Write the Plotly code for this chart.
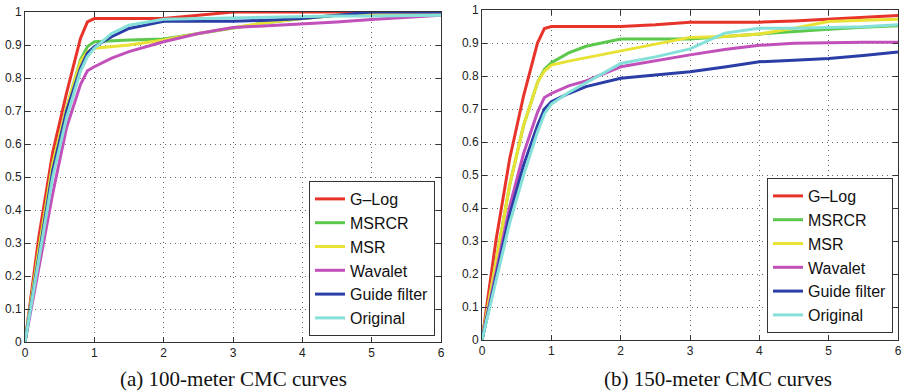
import plotly.graph_objects as go

# ---------------- data ----------------
series_names = ["G–Log", "MSRCR", "MSR", "Wavalet", "Guide filter", "Original"]
series_colors = ["#e8332b", "#5cc84c", "#e8e234", "#c150ba", "#2b3da6", "#84e0d8"]

x_rank = [0, 0.2, 0.4, 0.6, 0.8, 0.9, 1.0, 1.25, 1.5, 2, 2.5, 3, 3.5, 4, 4.5, 5, 5.5, 6]

# (a) 100-meter
a_glog = [0, 0.32, 0.575, 0.755, 0.92, 0.97, 0.98, 0.98, 0.98, 0.98, 0.99, 1.0, 1.0, 1.0, 1.0, 1.0, 1.0, 1.0]
a_msrcr = [0, 0.28, 0.54, 0.71, 0.855, 0.895, 0.91, 0.913, 0.915, 0.918, 0.935, 0.952, 0.968, 0.98, 0.99, 0.99, 0.99, 0.99]
a_msr = [0, 0.28, 0.54, 0.71, 0.85, 0.88, 0.89, 0.895, 0.9, 0.915, 0.935, 0.952, 0.968, 0.98, 0.99, 0.99, 0.99, 0.99]
a_wavalet = [0, 0.22, 0.45, 0.65, 0.78, 0.822, 0.834, 0.86, 0.88, 0.91, 0.935, 0.953, 0.958, 0.964, 0.97, 0.977, 0.983, 0.99]
a_guide = [0, 0.26, 0.52, 0.7, 0.83, 0.875, 0.895, 0.925, 0.95, 0.972, 0.972, 0.972, 0.975, 0.98, 0.99, 1.0, 1.0, 1.0]
a_original = [0, 0.25, 0.5, 0.68, 0.82, 0.865, 0.89, 0.935, 0.96, 0.978, 0.98, 0.983, 0.985, 0.988, 0.988, 0.988, 0.99, 0.99]

# (b) 150-meter
b_glog = [0, 0.3, 0.55, 0.74, 0.9, 0.944, 0.95, 0.95, 0.95, 0.95, 0.955, 0.963, 0.963, 0.963, 0.967, 0.973, 0.978, 0.983]
b_msrcr = [0, 0.24, 0.47, 0.65, 0.78, 0.82, 0.84, 0.87, 0.89, 0.912, 0.912, 0.912, 0.92, 0.928, 0.935, 0.942, 0.948, 0.952]
b_msr = [0, 0.24, 0.47, 0.65, 0.78, 0.815, 0.833, 0.845, 0.855, 0.875, 0.895, 0.917, 0.92, 0.927, 0.945, 0.965, 0.969, 0.972]
b_wavalet = [0, 0.2, 0.405, 0.565, 0.69, 0.735, 0.747, 0.77, 0.785, 0.828, 0.847, 0.864, 0.88, 0.893, 0.899, 0.901, 0.902, 0.902]
b_guide = [0, 0.19, 0.38, 0.53, 0.65, 0.7, 0.722, 0.747, 0.768, 0.793, 0.803, 0.813, 0.827, 0.843, 0.848, 0.853, 0.862, 0.873]
b_original = [0, 0.18, 0.355, 0.5, 0.63, 0.685, 0.715, 0.75, 0.78, 0.838, 0.858, 0.882, 0.93, 0.945, 0.945, 0.946, 0.949, 0.955]

x_ticks = [0, 1, 2, 3, 4, 5, 6]
x_tick_labels = ["0", "1", "2", "3", "4", "5", "6"]
y_ticks = [0, 0.1, 0.2, 0.3, 0.4, 0.5, 0.6, 0.7, 0.8, 0.9, 1.0]
y_tick_labels = ["0", "0.1", "0.2", "0.3", "0.4", "0.5", "0.6", "0.7", "0.8", "0.9", "1"]

captions = ["(a) 100-meter CMC curves", "(b) 150-meter CMC curves"]

# ---------------- figure ----------------
W, H = 902, 392
fig = go.Figure()

panel_a = [a_glog, a_msrcr, a_msr, a_wavalet, a_guide, a_original]
panel_b = [b_glog, b_msrcr, b_msr, b_wavalet, b_guide, b_original]

for name, col, ys in zip(series_names, series_colors, panel_a):
    fig.add_trace(go.Scatter(x=x_rank, y=ys, mode="lines", name=name,
                             line=dict(color=col, width=3), xaxis="x", yaxis="y",
                             legend="legend"))
for name, col, ys in zip(series_names, series_colors, panel_b):
    fig.add_trace(go.Scatter(x=x_rank, y=ys, mode="lines", name=name,
                             line=dict(color=col, width=3), xaxis="x2", yaxis="y2",
                             legend="legend2"))

def px_x(p):
    return p / W

def px_y(p):
    return 1 - p / H

axis_common = dict(
    showline=True, linecolor="#333333", linewidth=1, mirror="ticks",
    ticks="inside", ticklen=5, tickcolor="#333333", automargin=False,
    showgrid=True, gridcolor="#666666", griddash="1px,4px", gridwidth=1,
    zeroline=False, tickfont=dict(family="Liberation Sans, Arial", size=12, color="#222222"),
)

legend_common = dict(
    xanchor="right", yanchor="bottom",
    bgcolor="white", bordercolor="#333333", borderwidth=1,
    font=dict(family="Liberation Sans, Arial", size=16, color="#111111"),
    tracegroupgap=0, itemwidth=30,
)

fig.update_layout(
    width=W, height=H,
    margin=dict(l=0, r=0, t=0, b=0),
    paper_bgcolor="white", plot_bgcolor="white",
    xaxis=dict(domain=[px_x(25), px_x(441)], range=[0, 6], anchor="y",
               tickvals=x_ticks, ticktext=x_tick_labels, **axis_common),
    yaxis=dict(domain=[px_y(342), px_y(12)], range=[0, 1], anchor="x",
               tickvals=y_ticks, ticktext=y_tick_labels, **axis_common),
    xaxis2=dict(domain=[px_x(482), px_x(898)], range=[0, 6], anchor="y2",
                tickvals=x_ticks, ticktext=x_tick_labels, **axis_common),
    yaxis2=dict(domain=[px_y(340), px_y(10)], range=[0, 1], anchor="x2",
                tickvals=y_ticks, ticktext=y_tick_labels, **axis_common),
    legend=dict(x=px_x(435), y=px_y(336), **legend_common),
    legend2=dict(x=px_x(893), y=px_y(333), **legend_common),
    showlegend=True,
)

for cap, cx in zip(captions, [233, 718]):
    fig.add_annotation(text=cap, x=px_x(cx), y=px_y(379), xref="paper", yref="paper",
                       showarrow=False, xanchor="center", yanchor="middle",
                       font=dict(family="Liberation Serif, Times New Roman", size=21, color="#111111"))

fig.write_html("out.html",
               config={"displayModeBar": False},
               post_script="document.body.style.margin='0';document.body.style.overflow='hidden';")
